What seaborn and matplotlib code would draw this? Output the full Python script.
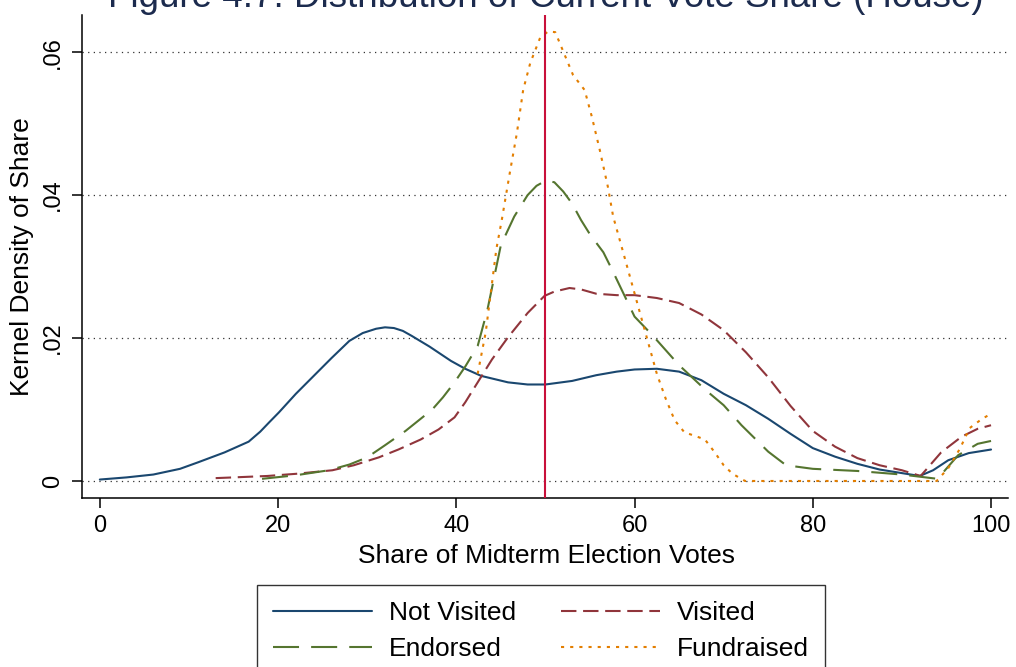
import matplotlib
matplotlib.use("Agg")
import matplotlib.pyplot as plt
import seaborn as sns
import pandas as pd

# ---- data ----
title = "Figure 4.7: Distribution of Current Vote Share (House)"
series_names = ["Not Visited", "Visited", "Endorsed", "Fundraised"]
x_ticks = [0, 20, 40, 60, 80, 100]
y_ticks = [0, 0.02, 0.04, 0.06]
y_tick_labels = ["0", ".02", ".04", ".06"]
cutoff = 50

not_visited_x = [0, 3, 6, 9, 11, 14, 16.7, 18, 19, 20.1, 22, 24, 26, 28, 29.5, 31, 32, 33, 34,
                 35, 37, 39.4, 41, 42.8, 45.8, 48, 50, 53, 55.7, 58, 60, 62.5, 65, 67.5, 70,
                 72.5, 75, 77.5, 80, 82.5, 85, 87.5, 90, 92, 93.5, 95.2, 97.5, 100]
not_visited_y = [.0002, .0005, .0009, .0017, .0026, .0040, .0055, .0069, .0082, .0096, .0122,
                 .0147, .0172, .0196, .0207, .0213, .0215, .0214, .0210, .0203, .0188, .0168,
                 .0157, .0147, .0138, .0135, .0135, .0140, .0148, .0153, .0156, .0157, .0153,
                 .0141, .0122, .0106, .0087, .0066, .0046, .0034, .0024, .0016, .0011, .0007,
                 .0015, .0029, .0039, .0044]

visited_x = [13, 15, 18.8, 22, 26.1, 28.5, 31.3, 33.5, 36, 38, 39.8, 41, 42.4, 44, 45.8, 48,
             49.9, 51, 52.7, 54, 55.7, 58, 60, 62.5, 65, 67.5, 70, 72.5, 75, 77.5, 80, 82.5,
             85, 87.5, 90, 92.1, 94.4, 96.7, 98.5, 100]
visited_y = [.0004, .0005, .0007, .0010, .0015, .0022, .0033, .0044, .0058, .0072, .0089, .0110,
             .0138, .0170, .0201, .0235, .0259, .0265, .0270, .0268, .0262, .0260, .0260, .0256,
             .0249, .0233, .0211, .0180, .0145, .0105, .0070, .0048, .0032, .0022, .0015, .0007,
             .0040, .0062, .0073, .0078]

endorsed_x = [18.2, 22, 25.7, 28, 30, 32, 34.3, 36, 37.3, 38.5, 39.8, 41, 42.4, 43.5, 45, 46.5,
              48, 49, 50, 51, 52, 53, 54, 55, 56.5, 57.5, 60, 62, 65, 68, 70, 72, 75, 77, 80,
              85, 90, 94, 96.3, 98.5, 100]
endorsed_y = [.0003, .0008, .0015, .0023, .0033, .0050, .0070, .0087, .0100, .0117, .0138, .0160,
              .0189, .0240, .0330, .0370, .0400, .0413, .0420, .0418, .0405, .0388, .0365, .0345,
              .0320, .0295, .0230, .0204, .0162, .0127, .0106, .0078, .0041, .0022, .0017,
              .0014, .0009, .0003, .0036, .0052, .0056]

fundraised_x = [42.4, 43.3, 44.5, 45.1, 46, 46.8, 47.5, 48.3, 49.4, 50.3, 51.1, 52, 53.1, 54.4,
                55.2, 56.1, 57, 57.6, 58.5, 59.5, 60.5, 61.5, 62.5, 63.5, 64.5, 65.6, 66.8,
                67.9, 69, 70, 71, 72.4, 75, 80, 85, 90, 93.9, 95.2, 96.5, 97.6, 99, 100]
fundraised_y = [.0150, .0208, .0325, .0365, .0431, .0487, .0547, .0585, .0620, .0629, .0628,
                .0601, .0568, .0547, .0510, .0463, .0412, .0370, .0330, .0285, .0240, .0195,
                .0150, .0115, .0085, .0068, .0063, .0058, .0040, .0022, .0010, 0, 0, 0, 0, 0, 0,
                .0018, .0045, .0074, .0087, .0094]

# ---- styling ----
sns.set_style("white")
plt.rcParams['font.family'] = ['Liberation Sans', 'DejaVu Sans']
plt.rcParams['text.color'] = 'black'
plt.rcParams['axes.labelcolor'] = 'black'
plt.rcParams['xtick.color'] = 'black'
plt.rcParams['ytick.color'] = 'black'

colors = {"Not Visited": "#1a476f", "Visited": "#90353b",
          "Endorsed": "#55752f", "Fundraised": "#e37e00"}
styles = {"Not Visited": "-", "Visited": (0, (7.4, 3.2)),
          "Endorsed": (0, (12.5, 5.8)), "Fundraised": (0, (1.5, 2.9))}
data = {"Not Visited": (not_visited_x, not_visited_y),
        "Visited": (visited_x, visited_y),
        "Endorsed": (endorsed_x, endorsed_y),
        "Fundraised": (fundraised_x, fundraised_y)}

fig = plt.figure(figsize=(10.16, 6.67), dpi=100)
ax = fig.add_axes([0.0807, 0.2534, 0.9114, 0.7241])

ax.set_axisbelow(True)
ax.yaxis.grid(True, linestyle=(0, (1, 3.5)), linewidth=0.9, color="#333333")
ax.xaxis.grid(False)

for name in series_names:
    xs, ys = data[name]
    df = pd.DataFrame({"x": xs, "y": ys})
    sns.lineplot(data=df, x="x", y="y", ax=ax, color=colors[name], linewidth=1.5,
                 linestyle=styles[name], label=name, sort=True, estimator=None,
                 dash_capstyle="butt", zorder=2)

ax.axvline(cutoff, color="#c8103a", linewidth=1.5, zorder=4)

ax.set_xlim(-2.0, 101.9)
ax.set_ylim(-0.00238, 0.0652)
ax.set_xticks(x_ticks)
ax.set_xticklabels([str(t) for t in x_ticks], fontsize=17, color="black")
ax.set_yticks(y_ticks)
ax.set_yticklabels(y_tick_labels, fontsize=17, rotation=90, va="center", color="black")
ax.tick_params(axis="x", direction="out", length=7.2, width=1.1, color="black",
               pad=5, bottom=True)
ax.tick_params(axis="y", direction="out", length=7.2, width=1.1, color="black",
               pad=6, left=True)

for side in ["top", "right"]:
    ax.spines[side].set_visible(False)
for side in ["left", "bottom"]:
    ax.spines[side].set_color("black")
    ax.spines[side].set_linewidth(1.1)

ax.set_xlabel("Share of Midterm Election Votes", fontsize=19, color="black")
ax.set_ylabel("Kernel Density of Share", fontsize=19, color="black")
ax.xaxis.set_label_coords(0.5016, -0.095)
ax.yaxis.set_label_coords(-0.052, 0.5)

h, l = ax.get_legend_handles_labels()
hmap = dict(zip(l, h))
order = ["Not Visited", "Endorsed", "Visited", "Fundraised"]
leg = ax.legend([hmap[k] for k in order], order, ncol=2, loc="upper center",
                bbox_to_anchor=(541 / 1016, 1 - 585 / 667), bbox_transform=fig.transFigure,
                fontsize=19, frameon=True, fancybox=False, shadow=False,
                handlelength=3.75, handletextpad=0.64, columnspacing=1.7,
                labelspacing=0.48, borderpad=0.6, borderaxespad=0)
leg.get_frame().set_edgecolor("black")
leg.get_frame().set_linewidth(1.0)
for t in leg.get_texts():
    t.set_color("black")

fig.text(546 / 1016, 1 - 7 / 667, title, ha="center", va="baseline",
         fontsize=26.5, color="#1c2b4e")

fig.savefig("out.png", dpi=100)
